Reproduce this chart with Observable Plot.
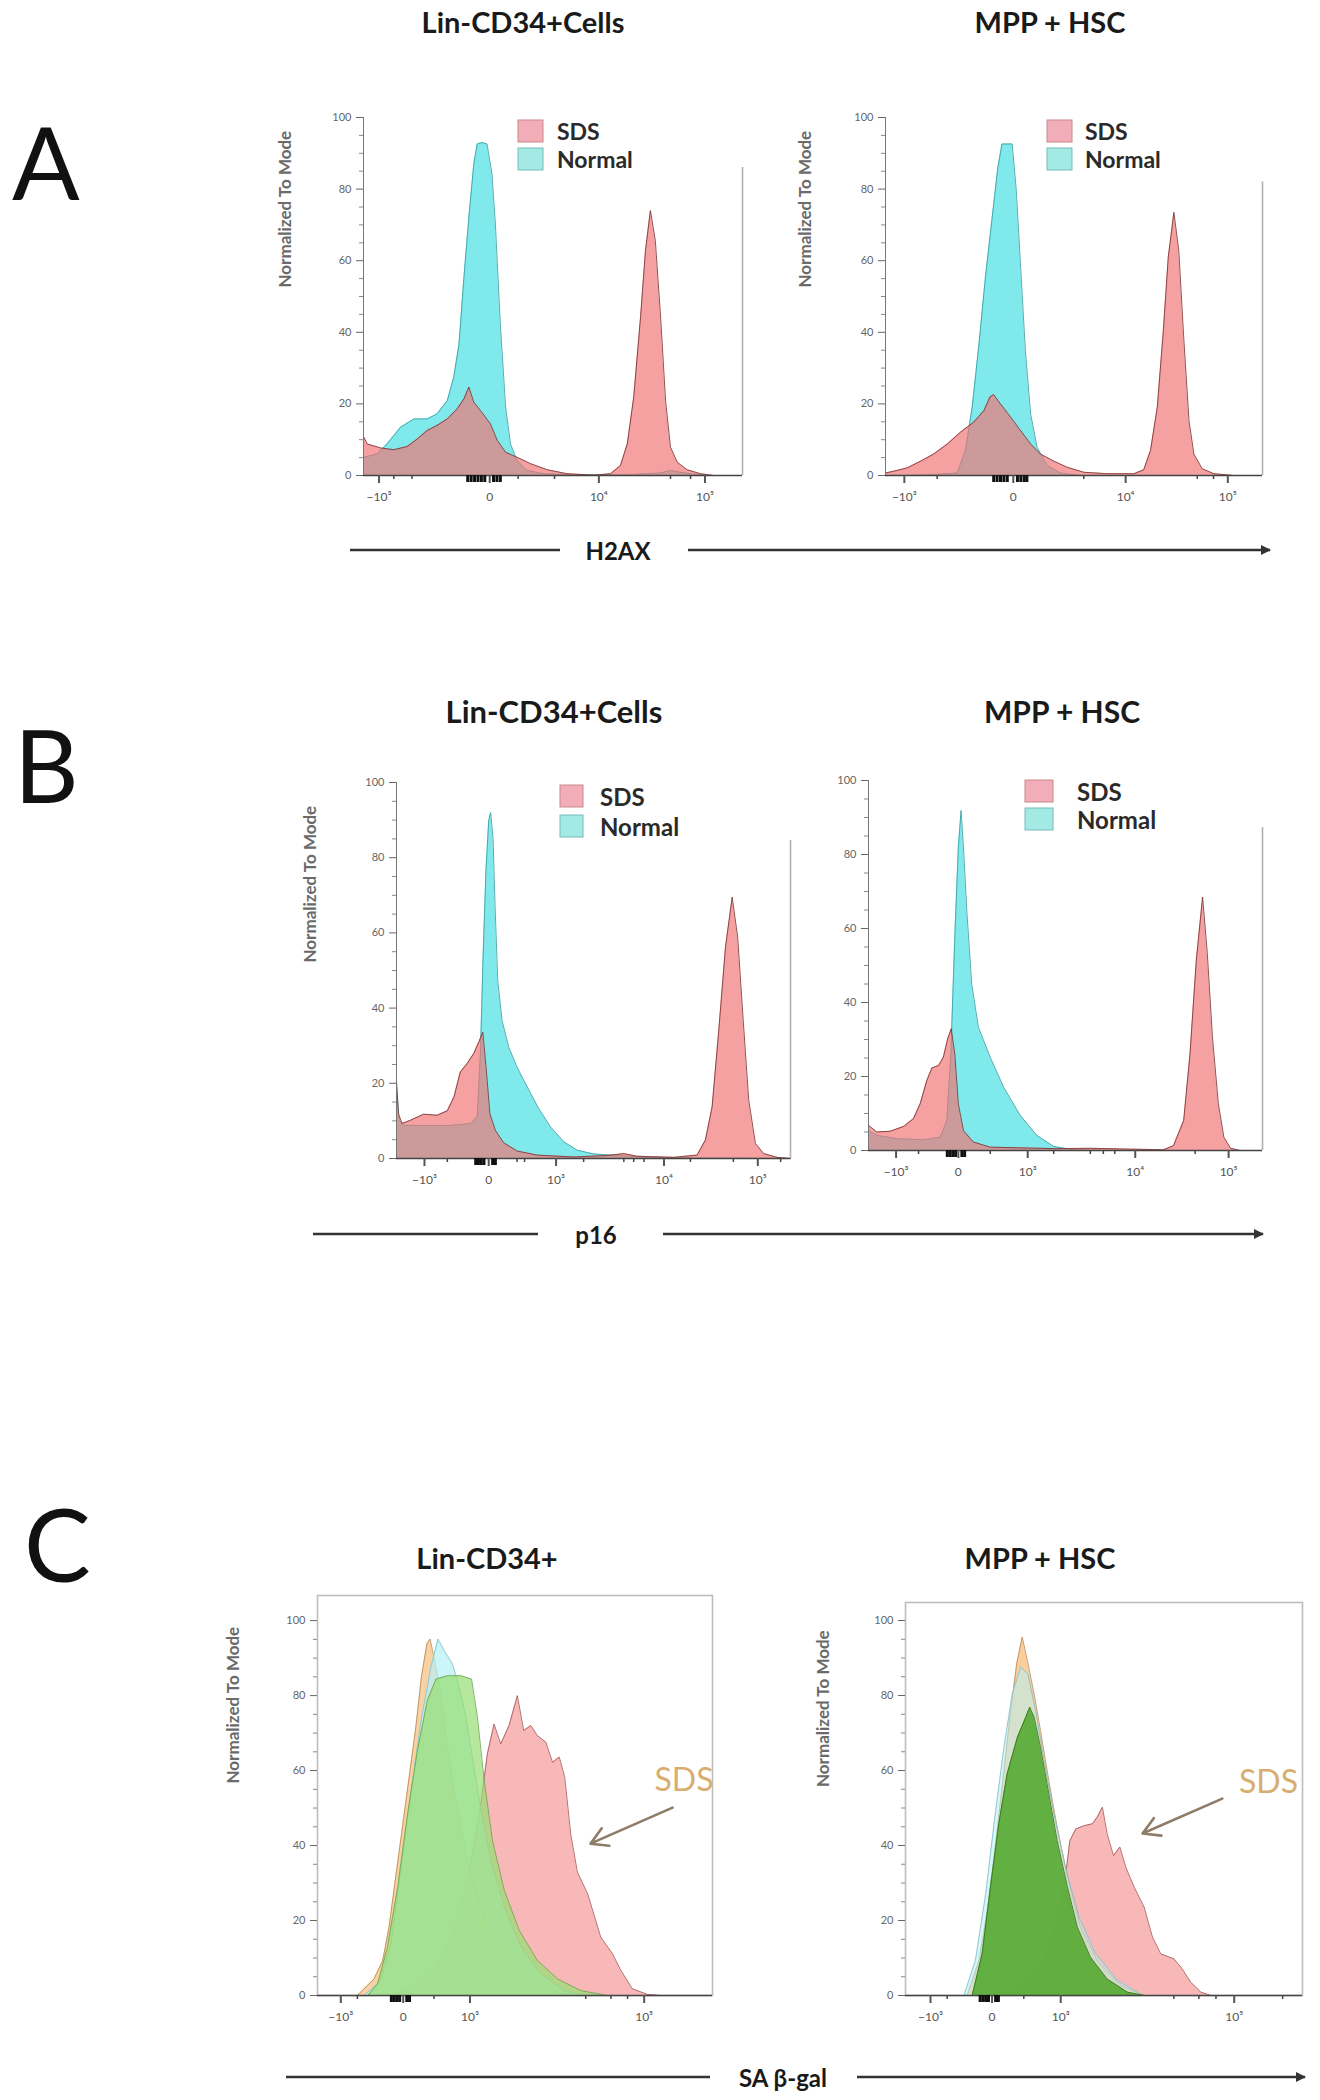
<!DOCTYPE html>
<html>
<head>
<meta charset="utf-8">
<script src="https://cdn.jsdelivr.net/npm/d3@7"></script>
<script src="https://cdn.jsdelivr.net/npm/@observablehq/plot@0.6"></script>
<style>
  html, body { margin: 0; padding: 0; background: #ffffff; }
  #page { position: relative; width: 1320px; height: 2100px; overflow: hidden; background: #ffffff; font-family: Lato, "Open Sans", sans-serif; }
  #page svg { position: absolute; }
</style>
</head>
<body>
<div id="page"></div>
<script>
// ---------------- DATA (x = display channel 0–100 along the axis, y = % of mode) ----------------

// Panel A : H2AX
const aLinNormal = [[0.1,5.1],[3.6,6.0],[6.2,8.8],[9.8,13.5],[13.3,15.8],[16.8,15.8],[19.4,17.2],[22.1,20.9],[23.8,27.4],[25.2,36.7],[26.5,55.3],[27.8,72.1],[29.1,87.0],[30.0,92.6],[31.3,93.0],[32.6,92.6],[33.9,84.2],[34.8,70.2],[36.1,42.3],[37.5,19.1],[38.8,8.8],[40.5,4.2],[43.2,1.4],[47.6,0.5],[56.4,0.2],[69.6,0.2],[78.4,0.7],[81.0,1.4],[83.6,0.9],[86.3,0.5],[90.7,0]];
const aLinSDS = [[0.1,10.7],[1.0,8.8],[4.5,7.7],[8.0,7.2],[11.5,8.1],[14.2,10.2],[16.8,12.6],[19.4,14.0],[22.1,15.8],[24.7,18.6],[26.5,21.4],[27.8,24.7],[29.1,20.5],[30.9,18.1],[33.5,14.4],[35.3,9.8],[37.5,6.5],[40.5,5.1],[44.1,3.3],[48.5,1.6],[53.7,0.5],[60.8,0.1],[65.2,0.5],[67.8,2.8],[69.6,8.8],[71.3,21.9],[73.1,44.2],[74.4,62.8],[75.7,74.0],[77.0,65.6],[78.4,44.2],[79.7,20.9],[81.0,7.9],[82.8,3.7],[85.4,1.6],[88.9,0.5],[92.4,0]];
const aMppNormal = [[0.4,0],[11.9,0.2],[19.0,0.7],[21.2,7.0],[23.0,19.1],[24.8,36.7],[26.5,55.3],[28.3,72.1],[29.8,86.0],[30.9,92.6],[33.6,92.6],[34.7,79.5],[35.8,59.1],[37.1,34.9],[38.5,17.2],[40.2,7.9],[42.9,2.8],[46.4,0.7],[51.7,0],[87.1,0]];
const aMppSDS = [[0,0.7],[2.2,1.2],[5.7,2.1],[9.3,4.0],[12.8,6.0],[16.4,8.8],[19.9,12.1],[23.4,14.9],[26.1,18.1],[27.7,21.9],[28.7,22.6],[30.5,20.0],[33.2,16.3],[35.8,12.6],[38.5,8.8],[41.1,6.0],[44.7,4.0],[48.2,2.3],[52.6,0.9],[58.8,0.5],[65.9,0.5],[68.5,1.6],[70.3,7.0],[72.1,19.1],[73.7,40.5],[75.0,60.9],[76.5,73.5],[77.8,62.8],[79.1,38.6],[80.5,15.3],[81.8,6.0],[84.0,1.9],[87.1,0.5],[92.4,0]];

// Panel B : p16
const bLinNormal = [[0,19.0],[0.7,10.2],[1.9,8.8],[6.9,8.8],[13.7,8.8],[18.8,9.3],[20.5,11.1],[21.3,27.9],[22.0,54.4],[22.7,76.5],[23.4,89.8],[23.9,92.0],[24.5,85.4],[25.0,67.7],[25.7,47.3],[26.8,36.7],[28.5,29.6],[30.6,24.3],[33.2,19.0],[36.1,13.3],[39.1,8.4],[42.5,4.4],[45.9,2.2],[50.1,1.2],[56.0,0.8],[61.9,0.4],[70.4,0.2],[83.1,0.1],[100,0]];
const bLinSDS = [[0,20.8],[0.5,11.9],[1.4,9.3],[3.6,10.2],[6.9,11.8],[10.3,11.5],[12.9,12.7],[14.6,16.4],[16.2,23.0],[17.9,25.2],[19.6,27.9],[20.9,31.0],[21.9,33.6],[22.8,23.5],[23.7,11.9],[25.1,7.5],[27.2,4.2],[30.6,2.0],[35.7,0.9],[45.0,0.4],[53.5,0.8],[57.7,1.3],[61.1,0.6],[70.4,0.3],[76.3,0.9],[78.4,4.9],[80.1,13.7],[81.8,34.1],[83.5,56.2],[85.2,69.5],[86.6,58.8],[88.0,36.7],[89.4,15.5],[91.1,4.0],[93.2,1.3],[96.6,0.3],[100,0]];
const bMppNormal = [[0,5.4],[2.1,4.1],[7.2,3.2],[14.0,2.9],[18.2,3.6],[19.9,8.1],[20.9,26.1],[21.9,57.7],[22.8,82.0],[23.5,91.9],[24.1,82.0],[25.0,64.0],[26.2,45.0],[27.9,33.3],[30.9,25.2],[34.3,17.1],[38.5,9.5],[42.7,4.1],[47.0,1.1],[52.0,0.2],[64.7,0]];
const bMppSDS = [[0,6.8],[2.1,5.0],[5.5,5.2],[8.9,6.5],[11.4,8.6],[13.1,12.6],[14.8,18.9],[16.1,22.3],[17.8,23.0],[19.0,25.2],[20.1,30.2],[21.0,32.9],[21.9,26.1],[22.8,12.6],[24.1,5.4],[26.6,2.3],[30.9,0.9],[47.8,0.5],[56.3,0.6],[64.7,0.4],[74.9,0.2],[77.4,1.3],[80.0,8.1],[81.6,26.1],[83.2,51.4],[84.8,68.5],[86.0,53.2],[87.3,30.6],[88.8,12.6],[90.2,3.6],[91.9,0.6],[94.3,0]];

// Panel C : SA β-gal (three control overlays + SDS)
const cLinCtrlOrange = [[10.1,0],[14.3,4.4],[16.5,9.3],[18.1,18.2],[19.8,31.6],[21.5,44.9],[23.2,58.2],[24.9,71.6],[26.3,84.9],[27.7,93.8],[28.5,95.1],[29.5,90.2],[31.1,81.3],[32.7,68.0],[34.6,54.7],[36.5,44.0],[38.4,34.2],[40.9,24.4],[44.3,16.4],[48.5,9.3],[53.6,4.2],[59.1,1.3],[65.0,0]];
const cLinCtrlCyan = [[11.8,0],[16.0,4.0],[18.6,13.8],[21.1,33.3],[23.6,53.8],[26.2,73.3],[28.7,87.6],[30.5,95.1],[32.1,92.0],[34.2,88.4],[35.9,82.2],[37.6,74.2],[39.2,63.6],[41.4,49.3],[43.9,36.0],[47.3,23.6],[51.5,12.9],[56.5,5.8],[62.4,1.3],[67.5,0]];
const cLinCtrlGreen = [[12.7,0],[15.2,3.1],[17.7,12.9],[20.3,28.9],[22.8,48.4],[25.3,65.3],[27.8,78.7],[30.0,84.4],[32.9,85.3],[36.3,85.3],[39.0,84.4],[40.5,74.2],[42.2,57.3],[44.3,41.3],[47.3,28.0],[51.1,17.3],[55.7,9.3],[60.8,4.4],[66.7,1.3],[73.4,0]];
const cLinSDS = [[17.7,0],[24.5,2.2],[29.5,6.7],[34.6,17.3],[38.0,30.7],[40.9,47.6],[43.0,64.4],[44.7,72.4],[46.4,67.1],[48.5,72.0],[50.6,80.0],[52.2,70.7],[54.0,72.0],[55.7,69.3],[57.8,67.6],[59.5,62.2],[61.2,63.6],[62.6,58.2],[64.1,43.1],[65.8,32.9],[68.4,27.1],[71.7,15.6],[74.7,11.1],[76.8,6.7],[79.7,1.8],[83.5,0.3],[86.9,0]];
const cMppCtrlOrange = [[15.5,0],[18.5,9.3],[20.6,22.7],[22.7,40.4],[24.8,60.0],[26.5,76.0],[28.0,88.4],[29.4,95.6],[30.7,89.3],[32.4,80.4],[34.0,70.7],[36.1,57.3],[38.2,44.9],[40.8,31.6],[44.1,18.2],[48.3,9.3],[54.2,2.7],[60.1,0]];
const cMppCtrlCyan = [[14.7,0],[17.6,9.3],[20.2,27.1],[22.4,46.7],[24.8,66.2],[26.9,80.4],[29.0,87.6],[30.8,85.8],[32.8,76.0],[34.9,62.7],[37.4,48.4],[40.3,34.2],[43.7,20.9],[47.9,11.1],[53.4,4.0],[59.2,0.4]];
const cMppCtrlGreen = [[16.8,0],[19.3,11.1],[21.4,28.9],[23.5,45.8],[25.6,59.1],[28.2,68.9],[30.3,74.2],[31.3,76.9],[32.4,74.2],[34.0,66.2],[36.1,53.8],[38.2,41.3],[40.8,28.9],[43.3,18.2],[46.6,10.2],[50.8,4.4],[55.9,0.9],[60.1,0]];
const cMppSDS = [[21.4,0],[29.8,3.1],[34.9,9.3],[38.2,20.0],[40.3,31.6],[41.4,41.3],[42.9,44.4],[45.0,45.3],[47.1,45.8],[48.3,47.6],[49.6,50.2],[50.8,43.1],[52.4,37.3],[54.0,39.6],[55.5,34.2],[57.6,28.9],[60.1,23.6],[62.2,15.6],[64.3,11.1],[67.6,9.8],[69.7,7.1],[71.8,3.6],[74.4,0.9],[76.9,0]];

// Axis ticks (positions in channel units) and labels
const yMajorTicks = [0, 20, 40, 60, 80, 100];
const yMinorTicks = [5, 10, 15, 25, 30, 35, 45, 50, 55, 65, 70, 75, 85, 90, 95];
const aTickLabels = ["−10³", "0", "10⁴", "10⁵"];
const aLinTicks = [4.1, 33.3, 62.1, 90.1];
const aMppTicks = [5.0, 33.9, 63.7, 90.8];
const aLinMinor = [8.0, 12.8, 40.8, 50.4, 81.0, 86.3];
const aMppMinor = [13.7, 52.6, 82.7, 87.0];
const aLinZero = [27.5, 28.4, 29.3, 30.2, 31.1, 32.0, 34.3, 35.2, 36.1];
const aMppZero = [28.7, 29.6, 30.5, 31.4, 32.3, 35.0, 35.9, 36.8, 37.5];
const bTickLabels = ["−10³", "0", "10³", "10⁴", "10⁵"];
const bLinTicks = [7.1, 23.4, 40.5, 67.9, 91.7];
const bMppTicks = [7.0, 22.8, 40.4, 67.7, 91.4];
const bLinMinor = [12.9, 30.6, 32.5, 47.5, 57.7, 60.2, 62.8, 74.6, 85.5, 97.5];
const bMppMinor = [12.7, 30.9, 47.0, 56.3, 59.6, 62.5, 82.9];
const bLinZero = [20.1, 20.8, 21.5, 22.2, 24.4, 25.1];
const bMppZero = [20.0, 20.7, 21.4, 22.1, 23.7, 24.4];
const cTickLabels = ["−10³", "0", "10³", "10⁵"];
const cLinTicks = [5.9, 21.7, 38.6, 82.7];
const cMppTicks = [6.3, 21.8, 39.1, 82.8];
const cLinMinor = [10.1, 29.5, 67.9, 74.3, 78.5];
const cMppMinor = [10.5, 29.8, 67.6, 73.9, 78.2, 95.0];
const cLinZero = [18.7, 19.4, 20.1, 20.8, 22.6, 23.3];
const cMppZero = [18.8, 19.5, 20.2, 20.9, 22.7, 23.4];

// Annotations for panel C ("SDS" label with arrow)
const cLinNote = {text: "SDS", x: 85.3, y: 57.3, arrow: [89.9, 50.1, 69.1, 40.5]};
const cMppNote = {text: "SDS", x: 84.0, y: 56.8, arrow: [79.8, 52.5, 59.7, 43.2]};

// ---------------- RENDERING ----------------
const page = document.getElementById("page");
const FONT = "Lato, 'Open Sans', sans-serif";

const SDS_AB = {fill: "#f07474", fillOpacity: 0.68, stroke: "#7a3434"};
const NORMAL_AB = {fill: "#55e1e4", fillOpacity: 0.75, stroke: "#3c9ea0"};

function drawPanel(cfg) {
  const {frameLeft, frameRight, yTop, yBottom, yMax, mL, mR, mT, mB} = cfg;
  const width = mL + (frameRight - frameLeft) + mR;
  const height = mT + (yBottom - yTop) + mB;
  const labelMap = new Map(cfg.xTicks.map((t, i) => [t, cfg.xLabels[i]]));
  const marks = [];
  if (cfg.frame) marks.push(Plot.frame({stroke: "#bdbdbd", strokeWidth: 1.6}));
  for (const s of cfg.series) {
    marks.push(Plot.areaY(s.data, {x: d => d[0], y: d => d[1], fill: s.fill, fillOpacity: s.fillOpacity}));
    marks.push(Plot.lineY(s.data, {x: d => d[0], y: d => d[1], stroke: s.stroke, strokeWidth: 1, strokeOpacity: 0.85}));
  }
  if (!cfg.frame) {
    marks.push(Plot.ruleX([0], {y1: 0, y2: 100, stroke: "#777", strokeWidth: 1}));
    if (cfg.rightBorder != null) marks.push(Plot.ruleX([100], {y1: 0, y2: cfg.rightBorder, stroke: "#b0b0b0", strokeWidth: 1.6}));
  }
  marks.push(Plot.ruleY([0], {stroke: "#444", strokeWidth: 1.3}));
  marks.push(Plot.axisY({ticks: yMajorTicks, tickSize: 7, tickPadding: 5, fontSize: 11, color: "#666", tickFormat: d => String(d), label: null}));
  marks.push(Plot.axisY({ticks: yMinorTicks, tickSize: 4, tickFormat: () => "", color: "#888", label: null}));
  marks.push(Plot.axisX({ticks: cfg.xTicks, tickSize: 8, tickPadding: 9, fontSize: 12, color: "#555", tickFormat: d => labelMap.get(d), label: null, strokeWidth: 2}));
  marks.push(Plot.axisX({ticks: cfg.xMinor, tickSize: 4, tickFormat: () => "", color: "#444", label: null, strokeWidth: 1.5}));
  marks.push(Plot.axisX({ticks: cfg.xZero, tickSize: 7, tickFormat: () => "", color: "#111", label: null, strokeWidth: 3}));
  if (cfg.yLabel) {
    marks.push(Plot.text([cfg.yLabel], {frameAnchor: "left", rotate: -90, dx: cfg.yLabelDx, dy: cfg.yLabelDy, fontSize: 17, fontWeight: "bold", fill: "#6a6a6a"}));
  }
  if (cfg.note) {
    const n = cfg.note;
    marks.push(Plot.arrow([n], {x1: d => d.arrow[0], y1: d => d.arrow[1], x2: d => d.arrow[2], y2: d => d.arrow[3], stroke: "#8f7c68", strokeWidth: 2.6, headLength: 11}));
    marks.push(Plot.text([n], {x: d => d.x, y: d => d.y, text: d => d.text, fill: "#d8ae70", fontSize: 32, textAnchor: "start", clip: true}));
  }
  const svg = Plot.plot({
    width, height,
    marginLeft: mL, marginRight: mR, marginTop: mT, marginBottom: mB,
    x: {domain: [0, 100]},
    y: {domain: [0, yMax]},
    style: {background: "transparent", fontFamily: FONT, overflow: "visible"},
    marks
  });
  svg.style.position = "absolute";
  svg.style.left = (frameLeft - mL) + "px";
  svg.style.top = (yTop - mT) + "px";
  page.appendChild(svg);
}

// Panel A
drawPanel({frameLeft: 363, frameRight: 742, yTop: 117, yBottom: 475, yMax: 100, mL: 100, mR: 20, mT: 20, mB: 50,
  rightBorder: 86, xTicks: aLinTicks, xLabels: aTickLabels, xMinor: aLinMinor, xZero: aLinZero,
  yLabel: "Normalized To Mode", yLabelDx: -78, yLabelDy: -9,
  series: [{data: aLinNormal, ...NORMAL_AB}, {data: aLinSDS, ...SDS_AB}]});
drawPanel({frameLeft: 885, frameRight: 1262, yTop: 117, yBottom: 475, yMax: 100, mL: 100, mR: 20, mT: 20, mB: 50,
  rightBorder: 82, xTicks: aMppTicks, xLabels: aTickLabels, xMinor: aMppMinor, xZero: aMppZero,
  yLabel: "Normalized To Mode", yLabelDx: -80, yLabelDy: -9,
  series: [{data: aMppNormal, ...NORMAL_AB}, {data: aMppSDS, ...SDS_AB}]});
// Panel B
drawPanel({frameLeft: 396, frameRight: 790, yTop: 782, yBottom: 1158, yMax: 100, mL: 100, mR: 8, mT: 20, mB: 50,
  rightBorder: 84.6, xTicks: bLinTicks, xLabels: bTickLabels, xMinor: bLinMinor, xZero: bLinZero,
  yLabel: "Normalized To Mode", yLabelDx: -86, yLabelDy: -8,
  series: [{data: bLinNormal, ...NORMAL_AB}, {data: bLinSDS, ...SDS_AB}]});
drawPanel({frameLeft: 868, frameRight: 1262, yTop: 780, yBottom: 1150, yMax: 100, mL: 55, mR: 20, mT: 20, mB: 50,
  rightBorder: 87.3, xTicks: bMppTicks, xLabels: bTickLabels, xMinor: bMppMinor, xZero: bMppZero,
  series: [{data: bMppNormal, ...NORMAL_AB}, {data: bMppSDS, ...SDS_AB}]});
// Panel C
drawPanel({frameLeft: 317, frameRight: 712, yTop: 1595, yBottom: 1995, yMax: 106.7, mL: 100, mR: 15, mT: 15, mB: 50,
  frame: true, xTicks: cLinTicks, xLabels: cTickLabels, xMinor: cLinMinor, xZero: cLinZero,
  yLabel: "Normalized To Mode", yLabelDx: -84, yLabelDy: -12, note: cLinNote,
  series: [
    {data: cLinSDS, fill: "#f6a4a4", fillOpacity: 0.78, stroke: "#a65a5a"},
    {data: cLinCtrlOrange, fill: "#f8c283", fillOpacity: 0.75, stroke: "#b88e5e"},
    {data: cLinCtrlCyan, fill: "#b4f1f6", fillOpacity: 0.7, stroke: "#86bfc6"},
    {data: cLinCtrlGreen, fill: "#96de72", fillOpacity: 0.7, stroke: "#6fa552"}]});
drawPanel({frameLeft: 905, frameRight: 1302, yTop: 1602, yBottom: 1995, yMax: 104.8, mL: 100, mR: 15, mT: 15, mB: 50,
  frame: true, xTicks: cMppTicks, xLabels: cTickLabels, xMinor: cMppMinor, xZero: cMppZero,
  yLabel: "Normalized To Mode", yLabelDx: -82, yLabelDy: -12, note: cMppNote,
  series: [
    {data: cMppSDS, fill: "#f6a4a4", fillOpacity: 0.78, stroke: "#a65a5a"},
    {data: cMppCtrlOrange, fill: "#f8c283", fillOpacity: 0.8, stroke: "#b88e5e"},
    {data: cMppCtrlCyan, fill: "#b4f1f6", fillOpacity: 0.55, stroke: "#86bfc6"},
    {data: cMppCtrlGreen, fill: "#52a82e", fillOpacity: 0.88, stroke: "#36731f"}]});

// ---------------- Overlay: panel letters, titles, legends, axis captions ----------------
const NS = "http://www.w3.org/2000/svg";
const ov = document.createElementNS(NS, "svg");
ov.setAttribute("width", 1320); ov.setAttribute("height", 2100);
ov.style.left = "0px"; ov.style.top = "0px"; ov.style.pointerEvents = "none";
ov.setAttribute("font-family", "Lato, 'Open Sans', sans-serif");
page.appendChild(ov);
function el(tag, attrs, text) {
  const e = document.createElementNS(NS, tag);
  for (const k in attrs) e.setAttribute(k, attrs[k]);
  if (text != null) e.textContent = text;
  ov.appendChild(e);
  return e;
}
const defs = el("defs", {});
const marker = document.createElementNS(NS, "marker");
marker.setAttribute("id", "ah"); marker.setAttribute("viewBox", "0 0 10 10");
marker.setAttribute("refX", "9"); marker.setAttribute("refY", "5");
marker.setAttribute("markerWidth", "4"); marker.setAttribute("markerHeight", "4");
marker.setAttribute("orient", "auto");
const mp = document.createElementNS(NS, "path");
mp.setAttribute("d", "M0,0 L10,5 L0,10 z"); mp.setAttribute("fill", "#333");
marker.appendChild(mp); defs.appendChild(marker);

// Panel letters
el("text", {x: 12, y: 200, "font-size": 100, fill: "#111"}, "A");
el("text", {x: 14, y: 803, "font-size": 100, fill: "#111"}, "B");
el("text", {x: 24, y: 1582, "font-size": 100, fill: "#111"}, "C");

// Titles
const titles = [
  ["Lin-CD34+Cells", 523, 21, 29], ["MPP + HSC", 1050, 21, 29],
  ["Lin-CD34+Cells", 554, 711, 31], ["MPP + HSC", 1062, 711, 30],
  ["Lin-CD34+", 487, 1557, 29], ["MPP + HSC", 1040, 1557, 29]
];
for (const [t, x, y, fs] of titles) el("text", {x, y, "font-size": fs, "font-weight": "bold", fill: "#1a1a1a", "text-anchor": "middle", "dominant-baseline": "central"}, t);

// Legends (A and B)
const legends = [
  [518, 120, 148, 25, 557, 23], [1047, 120, 148, 25, 1085, 23],
  [560, 785, 815, 23, 600, 24], [1025, 780, 808, 28, 1077, 24]
];
for (const [x, y1, y2, w, tx, fs] of legends) {
  el("rect", {x, y: y1, width: w, height: 22, fill: "#eea0ab", "fill-opacity": 0.85, stroke: "#c88", "stroke-width": 1});
  el("rect", {x, y: y2, width: w, height: 22, fill: "#93e6e0", "fill-opacity": 0.85, stroke: "#7bb", "stroke-width": 1});
  el("text", {x: tx, y: y1 + 11, "font-size": fs, "font-weight": "bold", fill: "#2a2a2a", "dominant-baseline": "central"}, "SDS");
  el("text", {x: tx, y: y2 + 11, "font-size": fs, "font-weight": "bold", fill: "#2a2a2a", "dominant-baseline": "central"}, "Normal");
}

// Axis captions with long lines
const captions = [
  ["H2AX", 618, 550, 350, 560, 688, 1270],
  ["p16", 596, 1234, 313, 538, 663, 1263],
  ["SA β-gal", 783, 2077, 286, 710, 857, 1305]
];
for (const [t, cx, y, l1, l2, r1, r2] of captions) {
  el("line", {x1: l1, y1: y, x2: l2, y2: y, stroke: "#333", "stroke-width": 2.5});
  el("line", {x1: r1, y1: y, x2: r2, y2: y, stroke: "#333", "stroke-width": 2.5, "marker-end": "url(#ah)"});
  el("text", {x: cx, y, "font-size": 24, "font-weight": "bold", fill: "#1a1a1a", "text-anchor": "middle", "dominant-baseline": "central"}, t);
}
</script>
</body>
</html>
